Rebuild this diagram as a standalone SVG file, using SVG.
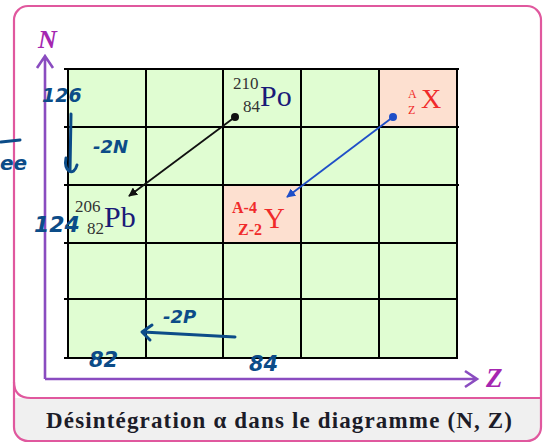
<svg xmlns="http://www.w3.org/2000/svg" width="549" height="443" viewBox="0 0 549 443">
<style>
.frame{fill:none;stroke:#e0589e;stroke-width:2.2}
.cell{fill:#e0fdd2}
.hot{fill:#fde0d0}
.gl{stroke:#000;stroke-width:2;fill:none}
.ax{stroke:#8a4cc0;stroke-width:2.6;fill:none}
.axl{font-family:"Liberation Serif",serif;font-weight:bold;font-style:italic;fill:#a526b0}
.num{font-family:"Liberation Serif",serif;font-size:17px;fill:#333}
.sym{font-family:"Liberation Serif",serif;font-size:30px;fill:#1a1a78}
.red{fill:#f02a2a}
.hand{font-family:"DejaVu Sans",sans-serif;font-weight:bold;font-style:italic;fill:#0c4c88}
.hs{stroke:#0c4c88;stroke-width:3;fill:none;stroke-linecap:round;stroke-linejoin:round}
.cap{font-family:"Liberation Serif",serif;font-weight:bold;font-size:23px;fill:#1c1c28}
</style>
<defs>
<marker id="ahK" viewBox="0 0 10 10" refX="9" refY="5" markerWidth="5" markerHeight="5" orient="auto"><path d="M0,0 L10,5 L0,10 z" fill="#111"/></marker>
<marker id="ahB" viewBox="0 0 10 10" refX="9" refY="5" markerWidth="5" markerHeight="5" orient="auto"><path d="M0,0 L10,5 L0,10 z" fill="#1f4fc8"/></marker>
</defs>
<rect x="0" y="0" width="549" height="443" fill="#fff"/>
<g id="frame">
<path d="M14,398 L541,398 L541,428 Q541,441 528,441 L27,441 Q14,441 14,428 Z" fill="#f0f0f0"/>
<rect class="frame" x="14" y="6" width="527" height="435" rx="14"/>
<path class="frame" d="M14,382 Q14,398 31,398 L541,398"/>
</g>
<g id="grid">
<rect class="cell" x="68" y="69" width="389" height="289"/>
<rect class="hot" x="379" y="69" width="78" height="58"/>
<rect class="hot" x="223" y="185" width="78" height="58"/>
<path class="gl" d="M64,69 H459 M64,127 H459 M64,185 H459 M64,243 H457 M64,299 H457 M64,358 H458 M68,69 V358 M146,69 V358 M223,69 V358 M301,69 V358 M379,69 V358 M457,69 V358"/>
</g>
<g id="axes">
<path class="ax" d="M45,379 V57 M37,68 L45,56 L53,68"/>
<path class="ax" d="M45,379 H477 M465,371 L477,379 L465,387"/>
<text class="axl" x="38" y="48" style="font-size:26px">N</text>
<text class="axl" x="486" y="387" style="font-size:27px">Z</text>
</g>
<g id="Po">
<text class="num" x="233" y="89">210</text>
<text class="num" x="243" y="112">84</text>
<text class="sym" x="260" y="106">Po</text>
</g>
<g id="Pb">
<text class="num" x="75" y="212">206</text>
<text class="num" x="87" y="234">82</text>
<text class="sym" x="104" y="227">Pb</text>
</g>
<g id="X">
<text class="num red" x="408" y="98" style="font-size:12px">A</text>
<text class="num red" x="408" y="114" style="font-size:12px">Z</text>
<text class="sym red" x="421" y="108" style="font-size:28px">X</text>
</g>
<g id="Y">
<text class="num red" x="232" y="213" style="font-size:16px;font-weight:bold">A-4</text>
<text class="num red" x="238" y="235" style="font-size:16px;font-weight:bold">Z-2</text>
<text class="sym red" x="264" y="228" style="font-size:29px">Y</text>
</g>
<g id="connectors">
<circle cx="235" cy="117" r="4" fill="#111"/>
<line x1="235" y1="117" x2="129" y2="196" stroke="#111" stroke-width="1.8" marker-end="url(#ahK)"/>
<circle cx="393" cy="117" r="4" fill="#1f4fc8"/>
<line x1="393" y1="117" x2="287" y2="197" stroke="#1f4fc8" stroke-width="1.8" marker-end="url(#ahB)"/>
</g>
<g id="annotations">
<text class="hand" x="42" y="102" style="font-size:19px">126</text>
<path class="hs" d="M71,114 L70,170 M66,158 C63,172 74,177 77,165"/>
<text class="hand" x="93" y="153" style="font-size:18px">-2N</text>
<text class="hand" x="34" y="232" style="font-size:22px">124</text>
<text class="hand" x="0" y="170" style="font-size:20px">ee</text>
<path class="hs" d="M1,142 L20,140"/>
<text class="hand" x="163" y="323" style="font-size:18px">-2P</text>
<path class="hs" d="M235,337 L143,332 M152,325 L142,332 L150,340"/>
<text class="hand" x="89" y="367" style="font-size:21px">82</text>
<text class="hand" x="249" y="371" style="font-size:21px">84</text>
</g>
<g id="caption">
<text class="cap" x="46" y="428" textLength="466" lengthAdjust="spacing">Désintégration α dans le diagramme (N, Z)</text>
</g>
</svg>
